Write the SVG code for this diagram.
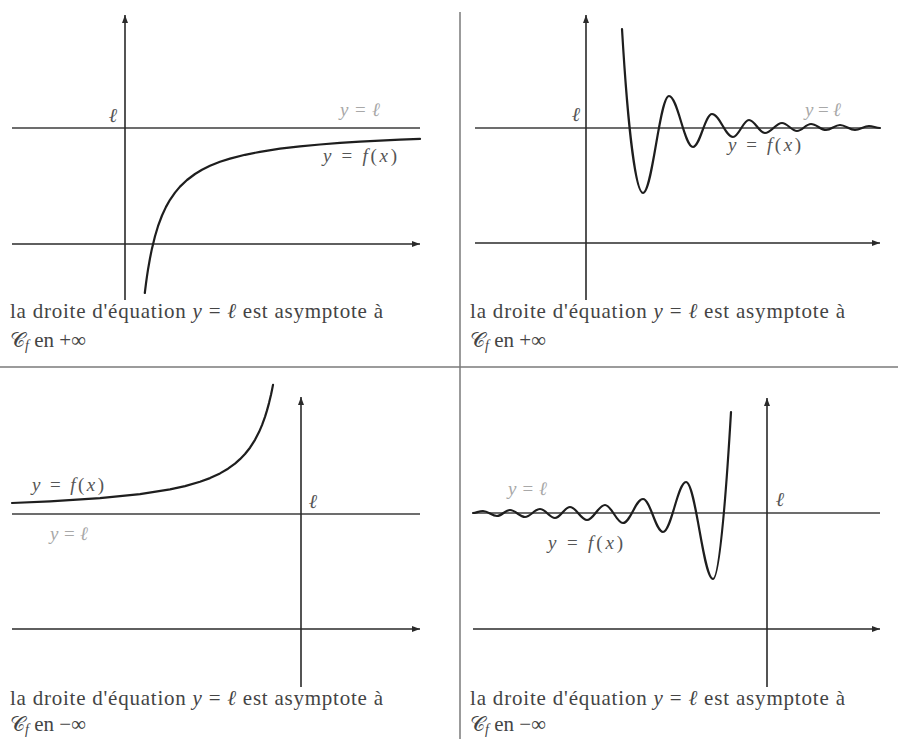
<svg xmlns="http://www.w3.org/2000/svg" width="898" height="739" viewBox="0 0 898 739" font-family="'Liberation Serif', 'Times New Roman', 'DejaVu Serif', serif">
<style>
.ax{stroke:#2a2a2a;stroke-width:1.6;fill:none}
.asy{stroke:#3c3c3c;stroke-width:1.6;fill:none}
.crv{stroke:#1e1e1e;stroke-width:2.2;fill:none;stroke-linejoin:round;stroke-linecap:round}
.sep{stroke:#7a7a7a;stroke-width:1.5;fill:none}
text{font-family:'Liberation Serif','Times New Roman','DejaVu Serif',serif}
.cap{font-size:21px;fill:#444}
.i{font-style:italic}
.lab{font-size:19px;fill:#555}
.lt{fill:#a8a8a8}
.ell{font-size:20px;fill:#555;font-style:italic}
.sub{font-size:14px;font-style:italic}
</style>
<defs>
<marker id="arr" viewBox="0 0 8 6" refX="8" refY="3" markerWidth="8" markerHeight="6" markerUnits="userSpaceOnUse" orient="auto">
<path d="M0,0 L8,3 L0,6 z" fill="#2a2a2a"/>
</marker>
</defs>
<rect width="898" height="739" fill="#fff"/>

<g id="separators">
<line class="sep" x1="460" y1="12" x2="460" y2="739"/>
<line class="sep" x1="0" y1="367" x2="898" y2="367"/>
</g>

<g id="panel-top-left">
<line class="asy" x1="12" y1="128" x2="420" y2="128"/>
<line class="ax" x1="12" y1="244" x2="420" y2="244" marker-end="url(#arr)"/>
<line class="ax" x1="125" y1="300" x2="125" y2="15" marker-end="url(#arr)"/>
<polyline class="crv" points="144.8,293 145,291.4 146,283.4 147,276.2 148,269.7 150,258.2 152,248.4 155,236.2 158,226.2 162,215.5 166,206.9 170,199.8 175,192.6 180,186.6 187,180 195,174 202,169.8 210,165.8 220,161.8 230,158.6 245,154.8 260,151.8 280,148.7 300,146.3 320,144.5 340,142.9 360,141.6 380,140.6 400,139.7 420,138.9"/>
<text class="ell" x="113" y="122" text-anchor="middle">ℓ</text>
<text class="lab lt" x="340" y="116" textLength="40"><tspan class="i">y</tspan> = <tspan class="i">ℓ</tspan></text>
<text class="lab" x="323" y="162" textLength="74"><tspan class="i">y</tspan> = <tspan class="i">f</tspan>(<tspan class="i">x</tspan>)</text>
<text class="cap" x="10" y="318" textLength="373">la droite d'équation <tspan class="i">y</tspan> = <tspan class="i">ℓ</tspan> est asymptote à</text>
<text class="cap" x="10" y="347">𝒞<tspan class="sub" dy="3">f</tspan><tspan dy="-3"> en +∞</tspan></text>
</g>

<g id="panel-top-right">
<line class="asy" x1="475" y1="128" x2="880" y2="128"/>
<line class="ax" x1="475" y1="243" x2="880" y2="243" marker-end="url(#arr)"/>
<line class="ax" x1="586" y1="300" x2="586" y2="15" marker-end="url(#arr)"/>
<path class="crv" d="M622,29 C628,130 636,193 643,193 C652.4,193 659.6,96 669,96 C677.7,96 684.3,147 693,147 C699.9,147 705.1,114 712,114 C719.6,114 725.4,137 733,137 C738.8,137 743.2,120 749,120 C754.8,120 759.2,133 765,133 C771.2,133 775.8,123 782,123 C787.4,123 791.6,131 797,131 C802.1,131 805.9,124 811,124 C816.4,124 820.6,130 826,130 C831.1,130 834.9,125 840,125 C845.4,125 849.6,130 855,130 C860.1,130 863.9,126 869,126 C873,126 876,128 880,128"/>
<text class="ell" x="576" y="121" text-anchor="middle">ℓ</text>
<text class="lab lt" x="805" y="116" textLength="36"><tspan class="i">y</tspan> = <tspan class="i">ℓ</tspan></text>
<text class="lab" x="728" y="151" textLength="73"><tspan class="i">y</tspan> = <tspan class="i">f</tspan>(<tspan class="i">x</tspan>)</text>
<text class="cap" x="470" y="318" textLength="375">la droite d'équation <tspan class="i">y</tspan> = <tspan class="i">ℓ</tspan> est asymptote à</text>
<text class="cap" x="470" y="347">𝒞<tspan class="sub" dy="3">f</tspan><tspan dy="-3"> en +∞</tspan></text>
</g>

<g id="panel-bottom-left">
<line class="asy" x1="12" y1="514" x2="420" y2="514"/>
<line class="ax" x1="12" y1="629" x2="420" y2="629" marker-end="url(#arr)"/>
<line class="ax" x1="301" y1="687" x2="301" y2="397" marker-end="url(#arr)"/>
<polyline class="crv" points="12,503 50,501.3 100,498.1 140,494.1 170,489.3 185,486.1 200,481.7 210,478.1 220,473.4 228,468.7 235,463.6 240,459.2 245,454 250,447.7 255,439.8 259,432.1 262,425.1 265,416.8 267,410.4 269,403.1 271,394.7 272,390 273,384.9"/>
<text class="ell" x="313" y="508" text-anchor="middle">ℓ</text>
<text class="lab" x="32" y="491" textLength="72"><tspan class="i">y</tspan> = <tspan class="i">f</tspan>(<tspan class="i">x</tspan>)</text>
<text class="lab lt" x="50" y="540" textLength="38"><tspan class="i">y</tspan> = <tspan class="i">ℓ</tspan></text>
<text class="cap" x="10" y="705" textLength="373">la droite d'équation <tspan class="i">y</tspan> = <tspan class="i">ℓ</tspan> est asymptote à</text>
<text class="cap" x="10" y="731">𝒞<tspan class="sub" dy="3">f</tspan><tspan dy="-3"> en −∞</tspan></text>
</g>

<g id="panel-bottom-right">
<line class="asy" x1="473" y1="513" x2="880" y2="513"/>
<line class="ax" x1="473" y1="629" x2="880" y2="629" marker-end="url(#arr)"/>
<line class="ax" x1="767" y1="687" x2="767" y2="398" marker-end="url(#arr)"/>
<path class="crv" d="M731,412 C727,480 720,579 713,579 C703.2,579 695.8,482 686,482 C677.7,482 671.3,532 663,532 C655.7,532 650.3,499 643,499 C635.7,499 630.3,523 623,523 C616.5,523 611.5,505 605,505 C598.5,505 593.5,520 587,520 C580.8,520 576.2,507 570,507 C564.6,507 560.4,518 555,518 C549.6,518 545.4,509 540,509 C534.6,509 530.4,517 525,517 C519.6,517 515.4,510 510,510 C505.3,510 501.7,516 497,516 C491.9,516 488.1,511 483,511 C479,511 476,513 473,513"/>
<text class="ell" x="780" y="506" text-anchor="middle">ℓ</text>
<text class="lab lt" x="508" y="495" textLength="39"><tspan class="i">y</tspan> = <tspan class="i">ℓ</tspan></text>
<text class="lab" x="548" y="549" textLength="75"><tspan class="i">y</tspan> = <tspan class="i">f</tspan>(<tspan class="i">x</tspan>)</text>
<text class="cap" x="470" y="705" textLength="375">la droite d'équation <tspan class="i">y</tspan> = <tspan class="i">ℓ</tspan> est asymptote à</text>
<text class="cap" x="470" y="731">𝒞<tspan class="sub" dy="3">f</tspan><tspan dy="-3"> en −∞</tspan></text>
</g>
</svg>
